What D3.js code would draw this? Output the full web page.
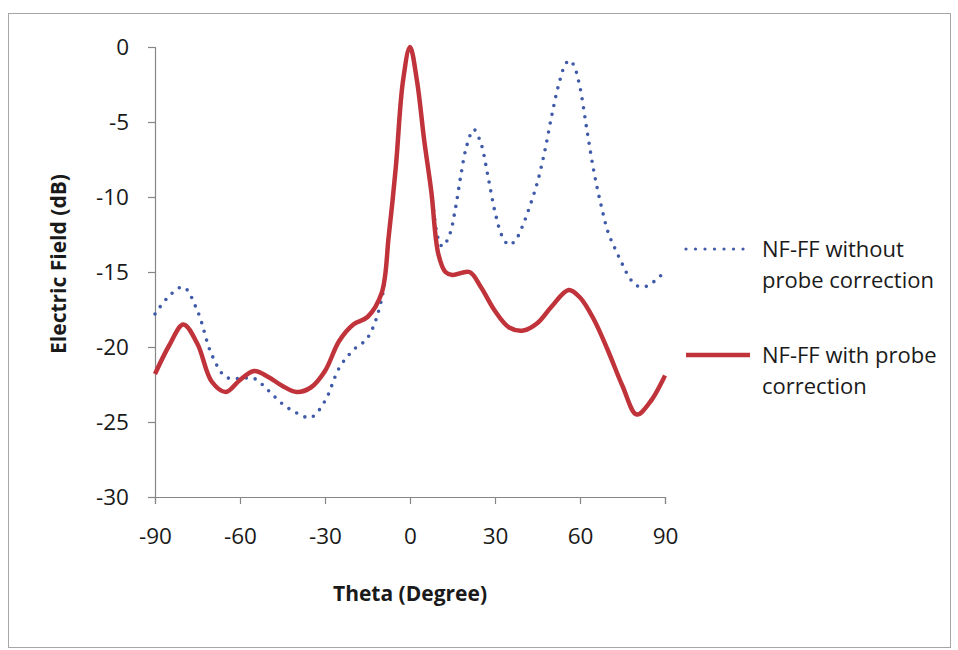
<!DOCTYPE html>
<html>
<head>
<meta charset="utf-8">
<script src="https://cdn.jsdelivr.net/npm/d3@7"></script>
<style>
  body { margin: 0; background: #fff; }
  svg text { font-family: "Open Sans", sans-serif; fill: #1a1a1a; }
</style>
</head>
<body>
<svg id="chart" width="958" height="650"></svg>
<script>
// NF-FF with probe correction (red solid)
const thetaWith = [-90, -85, -80, -75, -70, -65, -60, -55, -50, -45, -40, -35, -30, -25, -20, -15, -10, -7.5, -5, -2.5, 0, 2.5, 5, 7.5, 10, 12.5, 15, 21, 25, 30, 35, 40, 45, 50, 56, 60, 65, 70, 75, 80, 85, 90];
const dbWith = [-21.8, -19.9, -18.5, -19.8, -22.3, -23.0, -22.2, -21.6, -22.0, -22.6, -23.0, -22.7, -21.6, -19.6, -18.5, -18.0, -16.4, -12.6, -8.0, -2.3, 0, -2.3, -6.2, -9.6, -13.8, -15.0, -15.2, -15.0, -16.0, -17.6, -18.7, -18.9, -18.4, -17.3, -16.2, -16.7, -18.2, -20.3, -22.6, -24.5, -23.6, -21.9];

// NF-FF without probe correction (blue dotted)
const thetaWithout = [-90, -85, -80, -75, -70, -65, -60, -55, -50, -45, -40, -35, -30, -25, -20, -15, -10, -7.5, -5, -2.5, 0, 2.5, 5, 7.5, 10, 11.5, 14, 16, 18, 20, 22.5, 25, 27.5, 30, 32.5, 35, 37.5, 40, 42.5, 45, 47.5, 50, 52.5, 55, 56.5, 58, 60, 62.5, 65, 67.5, 70, 72.5, 75, 77.5, 80, 82.5, 85, 87.5, 90];
const dbWithout = [-17.8, -16.6, -16.0, -17.6, -20.5, -22.0, -22.1, -22.1, -22.9, -23.8, -24.4, -24.7, -23.6, -21.4, -20.2, -19.4, -16.8, -12.6, -8.0, -2.3, 0, -2.3, -6.2, -9.6, -12.8, -13.3, -12.5, -10.8, -8.5, -6.6, -5.5, -6.4, -8.6, -11.0, -12.6, -13.2, -12.8, -11.8, -10.5, -9.0, -7.0, -4.6, -2.5, -1.1, -0.9, -1.3, -2.7, -5.6, -8.4, -10.6, -12.4, -13.5, -14.5, -15.4, -15.9, -16.0, -15.8, -15.4, -15.0];

const xTicks = [-90, -60, -30, 0, 30, 60, 90];
const yTicks = [0, -5, -10, -15, -20, -25, -30];

const svg = d3.select("#chart");

// outer chart border
svg.append("rect")
    .attr("x", 8.5).attr("y", 13.5)
    .attr("width", 942).attr("height", 634)
    .attr("fill", "none")
    .attr("stroke", "#a6a6a6");

const x = d3.scaleLinear().domain([-90, 90]).range([155, 665]);
const y = d3.scaleLinear().domain([-30, 0]).range([497, 47]);

const axisColor = "#868686";

const xAxis = svg.append("g")
    .attr("transform", `translate(0,${y(-30)})`)
    .call(d3.axisBottom(x).tickValues(xTicks).tickSize(7).tickPadding(24).tickFormat(d3.format("d")));
const yAxis = svg.append("g")
    .attr("transform", `translate(${x(-90)},0)`)
    .call(d3.axisLeft(y).tickValues(yTicks).tickSize(7).tickPadding(19).tickFormat(d3.format("d")));

[xAxis, yAxis].forEach(g => {
    g.select(".domain").attr("stroke", axisColor).attr("stroke-width", 1.2);
    g.selectAll(".tick line").attr("stroke", axisColor).attr("stroke-width", 1.2);
    g.selectAll(".tick text")
        .attr("font-family", "Open Sans")
        .attr("font-size", 22.5)
        .attr("fill", "#1a1a1a");
});
// plain hyphen like the original
svg.selectAll(".tick text").text(d => String(d));

// axis titles
svg.append("text")
    .attr("x", 410).attr("y", 601)
    .attr("text-anchor", "middle")
    .attr("font-size", 21).attr("font-weight", "bold")
    .text("Theta (Degree)");

svg.append("text")
    .attr("transform", "translate(66,264) rotate(-90)")
    .attr("text-anchor", "middle")
    .attr("font-size", 21).attr("font-weight", "bold")
    .text("Electric Field (dB)");

const line = d3.line()
    .x(d => x(d[0]))
    .y(d => y(d[1]))
    .curve(d3.curveCatmullRom.alpha(0.5));

const blue = "#3f5aa8";
const red = "#c0333a";

svg.append("path")
    .datum(thetaWithout.map((t, i) => [t, dbWithout[i]]))
    .attr("d", line)
    .attr("fill", "none")
    .attr("stroke", blue)
    .attr("stroke-width", 3.6)
    .attr("stroke-linecap", "round")
    .attr("stroke-dasharray", "0 9");

svg.append("path")
    .datum(thetaWith.map((t, i) => [t, dbWith[i]]))
    .attr("d", line)
    .attr("fill", "none")
    .attr("stroke", red)
    .attr("stroke-width", 4.5)
    .attr("stroke-linejoin", "round");

// legend
const legend = svg.append("g");
const legendItems = [
    { lines: ["NF-FF without", "probe correction"], y: 249, color: blue, dotted: true },
    { lines: ["NF-FF with probe", "correction"], y: 355, color: red, dotted: false }
];
legendItems.forEach(item => {
    legend.append("line")
        .attr("x1", 686).attr("x2", 750)
        .attr("y1", item.y).attr("y2", item.y)
        .attr("stroke", item.color)
        .attr("stroke-width", item.dotted ? 3.2 : 4.5)
        .attr("stroke-linecap", item.dotted ? "round" : "butt")
        .attr("stroke-dasharray", item.dotted ? "0 9.5" : null);
    item.lines.forEach((t, j) => {
        legend.append("text")
            .attr("x", 762)
            .attr("y", item.y + 8 + j * 31)
            .attr("font-size", 22)
            .text(t);
    });
});
</script>
</body>
</html>
